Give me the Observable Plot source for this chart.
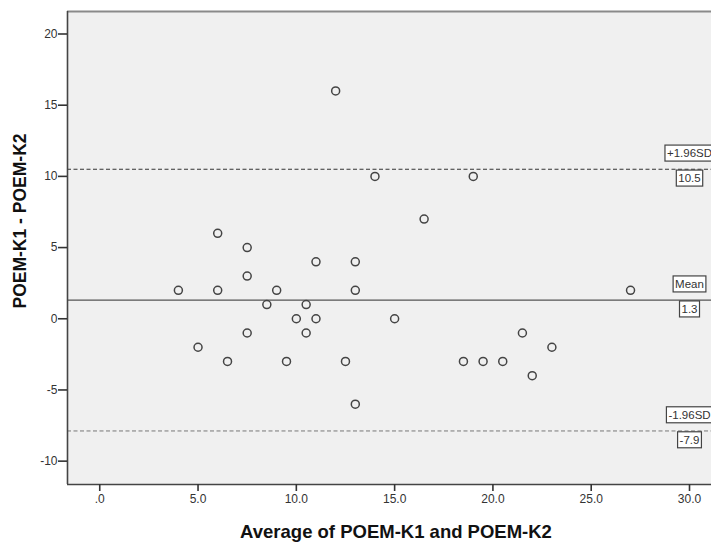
<!DOCTYPE html>
<html>
<head>
<meta charset="utf-8">
<script src="https://cdn.jsdelivr.net/npm/d3@7"></script>
<script src="https://cdn.jsdelivr.net/npm/@observablehq/plot@0.6"></script>
<style>
  html, body { margin: 0; padding: 0; overflow: hidden; background: #fff; }
  #chart { width: 711px; height: 544px; overflow: hidden; }
  #chart svg { max-width: none !important; width: 724px !important; height: 544px !important; }
</style>
</head>
<body>
<div id="chart"></div>
<script>
// Averages of POEM-K1 and POEM-K2 (x) and their differences (y)
const averages = [4, 5, 6, 6, 6.5, 7.5, 7.5, 7.5, 8.5, 9, 9.5, 10, 10.5, 10.5, 11, 11, 12, 12.5, 13, 13, 13, 14, 15, 16.5, 18.5, 19, 19.5, 20.5, 21.5, 22, 23, 27];
const differences = [2, -2, 6, 2, -3, 5, 3, -1, 1, 2, -3, 0, 1, -1, 4, 0, 16, -3, 4, 2, -6, 10, 0, 7, -3, 10, -3, -3, -1, -4, -2, 2];

// Reference lines: +1.96SD, Mean, -1.96SD
const refNames = ["+1.96SD", "Mean", "-1.96SD"];
const refValues = [10.5, 1.31, -7.88];
const refValueLabels = ["10.5", "1.3", "-7.9"];
const refLabelX = 30;

// Axes
const xTicks = [0, 5, 10, 15, 20, 25, 30];
const xTickLabels = [".0", "5.0", "10.0", "15.0", "20.0", "25.0", "30.0"];
const yTicks = [20, 15, 10, 5, 0, -5, -10];
const yTickLabels = ["20", "15", "10", "5", "0", "-5", "-10"];
const xDomain = [-1.64, 31.78];
const yDomain = [-11.64, 21.58];
const xTitle = "Average of POEM-K1 and POEM-K2";
const yTitle = "POEM-K1 - POEM-K2";

const points = averages.map((a, i) => ({avg: a, diff: differences[i]}));
const refLabels = [];
refNames.forEach((n, i) => {
  refLabels.push({x: refLabelX, y: refValues[i], text: n, pos: "above"});
  refLabels.push({x: refLabelX, y: refValues[i], text: refValueLabels[i], pos: "below"});
});

const chart = Plot.plot({
  width: 724,
  height: 544,
  marginLeft: 67,
  marginRight: 0,
  marginTop: 11,
  marginBottom: 60,
  style: {fontFamily: "'Liberation Sans', Arial, sans-serif", background: "#fff", maxWidth: "none"},
  x: {domain: xDomain},
  y: {domain: yDomain},
  marks: [
    Plot.frame({fill: "#f0f0f0", stroke: null}),
    Plot.ruleY([refValues[0]], {stroke: "#333", strokeWidth: 1.2, strokeDasharray: "4,2.5"}),
    Plot.ruleY([refValues[1]], {stroke: "#555", strokeWidth: 1.4}),
    Plot.ruleY([refValues[2]], {stroke: "#777", strokeWidth: 1, strokeDasharray: "4,2.5"}),
    Plot.dot(points, {x: "avg", y: "diff", r: 4, stroke: "#444", strokeWidth: 1.5, fill: "none"}),
    Plot.ruleY([yDomain[1]], {stroke: "#8a8a8a", strokeWidth: 2}),
    Plot.ruleY([yDomain[0]], {stroke: "#444", strokeWidth: 1.6}),
    Plot.ruleX([xDomain[0]], {stroke: "#444", strokeWidth: 1.6}),
    Plot.axisX({
      ticks: xTicks,
      tickFormat: d => xTickLabels[xTicks.indexOf(d)],
      tickSize: 7, tickPadding: 3, strokeWidth: 1.6, stroke: "#333",
      fill: "#333", fontSize: 12, label: null
    }),
    Plot.axisY({
      ticks: yTicks,
      tickFormat: d => yTickLabels[yTicks.indexOf(d)],
      tickSize: 9, tickPadding: 1, strokeWidth: 1.6, stroke: "#333",
      fill: "#333", fontSize: 12, label: null
    }),
    Plot.text([xTitle], {frameAnchor: "bottom", dy: 48, text: d => d, textAnchor: "middle", lineAnchor: "middle", fontSize: 18.5, fontWeight: "bold", fill: "#111"}),
    Plot.text([yTitle], {frameAnchor: "left", dx: -47, dy: -27, rotate: -90, text: d => d, textAnchor: "middle", lineAnchor: "middle", fontSize: 17.5, fontWeight: "bold", fill: "#111"}),
    Plot.text(refLabels, {
      x: "x", y: "y", text: "text",
      fontSize: 11.5, fill: "#333", lineAnchor: "middle"
    })
  ]
});
document.getElementById("chart").appendChild(chart);

// Shift ref labels above/below their lines and draw boxes around them
const labelSet = new Set(refLabels.map(d => d.text));
const texts = Array.from(chart.querySelectorAll("text")).filter(t => labelSet.has(t.textContent));
texts.forEach(t => {
  const d = refLabels.find(r => r.text === t.textContent);
  const shift = d.pos === "above" ? -12.5 : 12.5;
  const yAttr = parseFloat(t.getAttribute("y") || "0");
  t.setAttribute("y", yAttr + shift);
  const bb = t.getBBox();
  const rect = document.createElementNS("http://www.w3.org/2000/svg", "rect");
  rect.setAttribute("x", bb.x - 2);
  rect.setAttribute("y", bb.y - 2);
  rect.setAttribute("width", bb.width + 4);
  rect.setAttribute("height", bb.height + 4);
  rect.setAttribute("fill", "#fff");
  rect.setAttribute("stroke", "#444");
  rect.setAttribute("stroke-width", "1.2");
  if (t.getAttribute("transform")) rect.setAttribute("transform", t.getAttribute("transform"));
  t.parentNode.insertBefore(rect, t);
});
</script>
</body>
</html>
